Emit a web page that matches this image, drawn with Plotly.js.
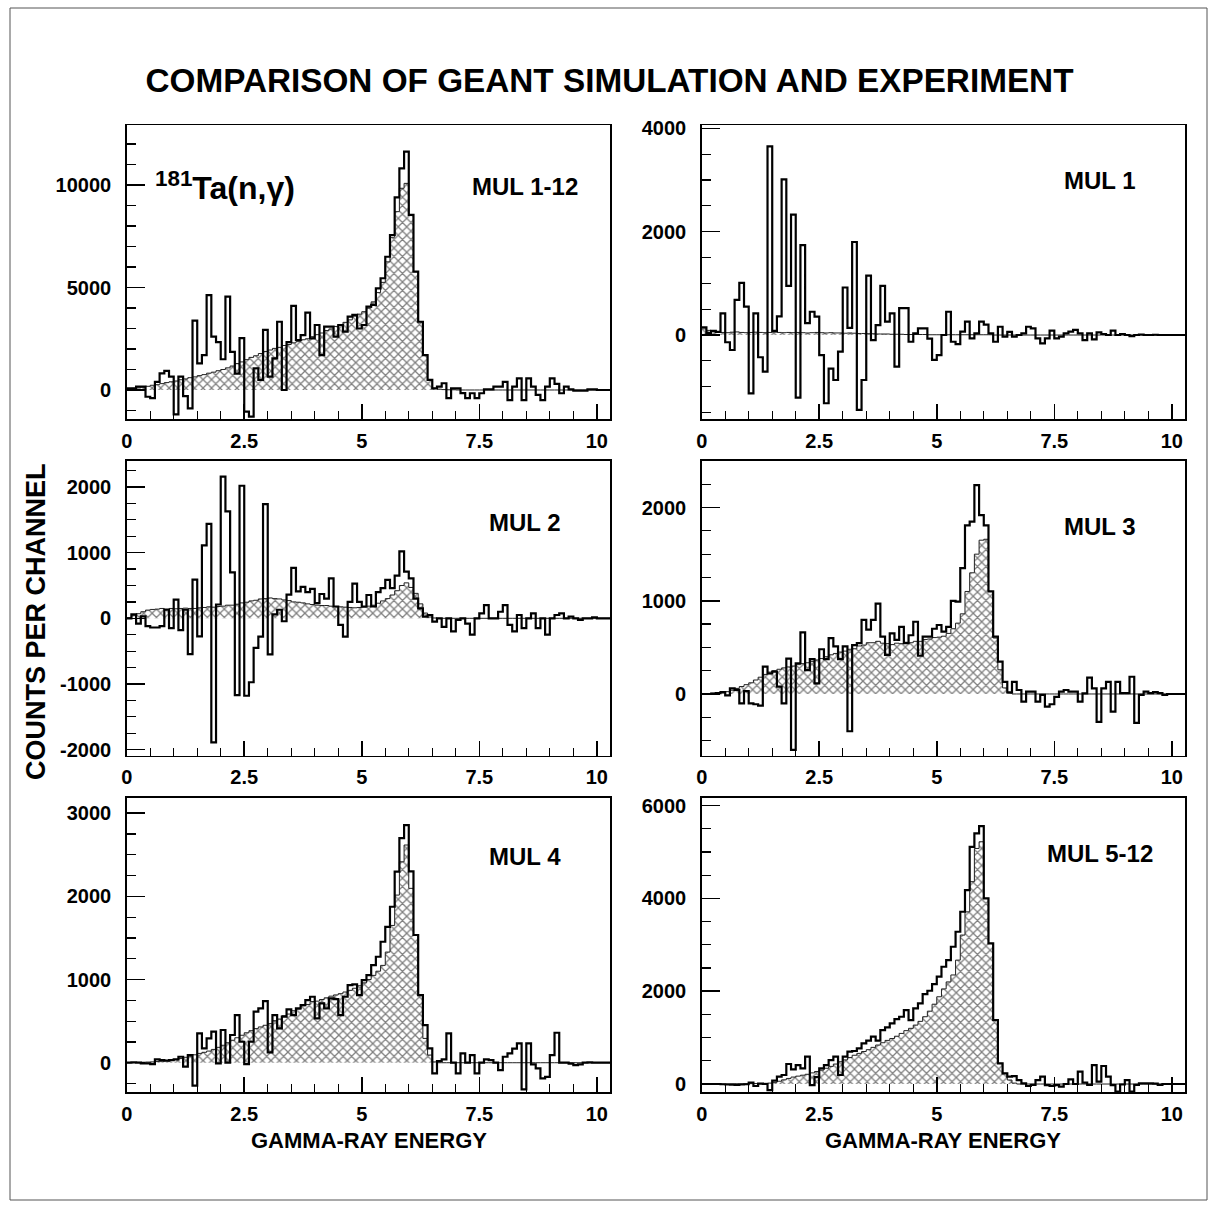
<!DOCTYPE html>
<html>
<head>
<meta charset="utf-8">
<script src="https://cdn.plot.ly/plotly-3.0.1.min.js"></script>
<style>
  html, body { margin: 0; padding: 0; background: #fff; }
  #chart { width: 1219px; height: 1210px; }
</style>
</head>
<body>
<div id="chart"></div>
<script>
// Gamma-ray spectra of 181Ta(n,gamma): counts per 0.1 MeV channel, first channel at 0 MeV.
// "Exp" = measured spectrum (outline), "Sim" = GEANT simulation (hatched).
const BIN_WIDTH = 0.1;
const E_MAX = 10.28;

const mul1to12Exp = [
  80, 80, 160, 160, -330, -400, 400, 810, 930, 650,
  -1190, 650, -300, -900, 3380, 1300, 1700, 4630, 2600, 2340,
  1500, 4550, 1860, 800, 2530, -1060, -1300, 1060, 490, 2930,
  650, 1540, 3330, 0, 2340, 4100, 2440, 2680, 3770, 2520,
  3170, 1700, 3090, 3090, 2600, 3170, 2850, 3580, 3660, 3000,
  3170, 4070, 4150, 4960, 5450, 6500, 7560, 9400, 10810, 11630,
  8540, 5770, 3330, 1700, 490, 80, 160, 330, -400, 80,
  80, -150, -400, -160, -400, -160, 30, 30, 160, 160,
  400, -490, 160, 570, -490, 570, 160, -240, -490, 160,
  570, 300, -160, 160, 30, -30, -30, -30, 30, 30,
  0, 0, 0
];
const mul1to12Sim = [
  40, 80, 100, 150, 180, 230, 260, 310, 360, 400,
  440, 500, 540, 600, 640, 700, 750, 820, 870, 940,
  1000, 1080, 1170, 1290, 1370, 1480, 1590, 1670, 1780, 1880,
  1950, 2030, 2080, 2170, 2220, 2300, 2360, 2450, 2500, 2600,
  2700, 2780, 2900, 2980, 3100, 3180, 3300, 3420, 3600, 3700,
  3820, 4000, 4300, 4750, 5250, 6250, 7450, 8700, 9840, 10080,
  8540, 5770, 3330, 1700, 490, 80, 40, 20, 10, 10,
  0, 0, 0, 0, 0, 0, 0, 0, 0, 0,
  0, 0, 0, 0, 0, 0, 0, 0, 0, 0,
  0, 0, 0, 0, 0, 0, 0, 0, 0, 0,
  0, 0, 0
];

const mul1Exp = [
  150, 40, 80, 60, 420, -140, -290, 680, 1010, 550,
  -1130, 420, -430, -710, 3650, 80, 360, 3010, 950, 2330,
  -1210, 1740, 230, 450, 355, -390, -1320, -650, -870, -320,
  920, 140, 1800, -1450, -870, 1150, -100, 190, 950, 260,
  420, -610, 520, 520, -130, 30, 130, 130, -70, -480,
  -390, 0, 450, -130, -175, 65, 260, -65, 30, 260,
  200, 30, -130, 160, -30, 60, -30, 0, 30, 160,
  130, -65, -160, -65, 85, -65, -30, 30, 65, 100,
  30, -100, 30, -85, 50, 20, 0, 85, 0, 20,
  0, -20, 0, 10, 0, 0, 5, 0, 0, 0,
  0, 0, 0
];
const mul1Sim = [
  120, 90, 70, 60, 50, 45, 55, 60, 50, 45,
  50, 55, 50, 45, 50, 55, 50, 45, 50, 45,
  50, 45, 40, 45, 50, 45, 40, 45, 40, 40,
  35, 40, 35, 30, 30, 25, 25, 20, 20, 20,
  15, 15, 15, 10, 10, 10, 10, 10, 5, 5,
  5, 5, 5, 5, 5, 5, 5, 5, 5, 5,
  5, 5, 0, 0, 0, 0, 0, 0, 0, 0,
  0, 0, 0, 0, 0, 0, 0, 0, 0, 0,
  0, 0, 0, 0, 0, 0, 0, 0, 0, 0,
  0, 0, 0, 0, 0, 0, 0, 0, 0, 0,
  0, 0, 0
];

const mul2Exp = [
  0, 60, -80, 30, -120, -140, -140, -120, 130, -150,
  285, -180, 130, -545, 590, -275, 1110, 1440, -1890, 210,
  2160, 1630, 700, -1170, 2020, -1180, -975, -450, -280, 1740,
  -550, 60, 130, -45, 360, 770, 410, 480, 400, 450,
  230, 370, 300, 610, 180, -100, -280, 250, 530, 250,
  180, 355, 180, 400, 460, 585, 460, 650, 1020, 710,
  610, 300, 150, 25, 50, -50, 0, -130, 0, -200,
  -25, 0, -80, -250, 0, 75, 200, 0, 0, 100,
  200, -100, -200, 50, -150, 0, 75, -150, 0, -250,
  0, 50, 75, 0, 25, 0, -25, 0, 0, 15,
  0, 0, 0
];
const mul2Sim = [
  10, 40, 70, 100, 125, 135, 140, 150, 140, 150,
  145, 150, 155, 150, 150, 160, 165, 175, 170, 180,
  185, 200, 200, 215, 235, 245, 265, 275, 295, 300,
  310, 300, 295, 280, 270, 250, 245, 235, 220, 210,
  200, 195, 195, 185, 180, 175, 170, 165, 160, 165,
  170, 185, 200, 230, 265, 300, 355, 420, 500, 540,
  470, 380, 220, 80, 20, 5, 0, 0, 0, 0,
  0, 0, 0, 0, 0, 0, 0, 0, 0, 0,
  0, 0, 0, 0, 0, 0, 0, 0, 0, 0,
  0, 0, 0, 0, 0, 0, 0, 0, 0, 0,
  0, 0, 0
];

const mul3Exp = [
  0, 0, 5, 10, 20, -15, 60, 45, -100, 30,
  -100, -110, -125, 293, 220, 240, 80, -100, 380, -600,
  330, 660, 257, 375, 114, 480, 375, 600, 510, 375,
  510, -400, 525, 545, 795, 690, 795, 970, 615, 420,
  650, 580, 720, 545, 630, 775, 410, 615, 615, 700,
  740, 670, 720, 1000, 990, 1350, 1810, 1850, 2240, 1920,
  1810, 1100, 615, 347, 130, 18, 130, 43, -82, 25,
  25, -82, -10, -136, -110, -30, 25, 43, 25, 25,
  -82, 7, 175, 60, -300, 60, 130, -190, 130, 10,
  10, 185, -310, -10, 25, 10, 20, 10, -10, 0,
  0, 0, 0
];
const mul3Sim = [
  0, 3, 8, 12, 18, 25, 40, 60, 80, 100,
  120, 150, 180, 210, 235, 250, 265, 280, 290, 300,
  315, 325, 335, 350, 365, 380, 400, 420, 435, 450,
  460, 480, 485, 515, 525, 550, 550, 565, 545, 540,
  530, 545, 540, 555, 550, 565, 565, 585, 590, 605,
  610, 620, 650, 700, 760, 860, 1100, 1300, 1500, 1650,
  1660, 1100, 600, 260, 65, 10, 0, 0, 0, 0,
  0, 0, 0, 0, 0, 0, 0, 0, 0, 0,
  0, 0, 0, 0, 0, 0, 0, 0, 0, 0,
  0, 0, 0, 0, 0, 0, 0, 0, 0, 0,
  0, 0, 0
];

const mul4Exp = [
  0, 5, 0, -8, -8, -16, 40, 30, 24, 30,
  40, 72, -48, 92, -276, 353, 172, 292, 373, -8,
  393, 0, 333, 573, 252, -16, 252, 613, 653, 741,
  124, 573, 413, 553, 641, 573, 653, 693, 753, 793,
  533, 713, 653, 773, 765, 573, 793, 933, 941, 813,
  993, 1053, 1174, 1274, 1454, 1634, 1875, 2296, 2700, 2857,
  2300, 1535, 813, 453, 172, -128, 20, 40, 353, 0,
  -128, 112, 0, 92, -128, 0, 40, 30, 0, -88,
  72, 112, 170, 232, -320, 232, -20, -68, -188, -170,
  92, 360, 0, 0, -10, -28, -20, 0, 5, 0,
  0, 0, 0
];
const mul4Sim = [
  0, 2, 4, 6, 8, 10, 14, 18, 24, 30,
  40, 50, 65, 80, 95, 112, 125, 140, 160, 185,
  210, 240, 270, 300, 330, 360, 385, 410, 430, 450,
  470, 505, 525, 565, 585, 625, 645, 685, 700, 735,
  740, 760, 780, 800, 815, 830, 850, 870, 895, 925,
  960, 1000, 1050, 1100, 1170, 1330, 1650, 2015, 2415, 2617,
  2096, 1535, 813, 292, 92, 10, 0, 0, 0, 0,
  0, 0, 0, 0, 0, 0, 0, 0, 0, 0,
  0, 0, 0, 0, 0, 0, 0, 0, 0, 0,
  0, 0, 0, 0, 0, 0, 0, 0, 0, 0,
  0, 0, 0
];

const mul5to12Exp = [
  0, 0, 0, 0, -5, -10, -15, -20, -10, -5,
  30, -43, 10, 0, -130, 72, 158, 194, 431, 316,
  409, 338, 589, -22, 150, 338, 409, 517, 589, 194,
  589, 700, 711, 768, 876, 933, 1020, 933, 1163, 1220,
  1306, 1400, 1450, 1594, 1378, 1630, 1738, 1938, 2010, 2154,
  2312, 2527, 2671, 2958, 3281, 3712, 4179, 5112, 5399, 5557,
  4000, 3030, 1379, 445, 230, 158, 172, 86, 14, -43,
  -20, 86, 158, -22, -43, -22, -57, 0, 100, 0,
  266, 30, -20, 409, 50, 388, 158, -22, -165, -10,
  86, -165, -20, 15, 15, 15, 10, -20, 0, 0,
  0, 0, 0
];
const mul5to12Sim = [
  0, 0, 0, 0, 0, 2, 3, 4, 5, 6,
  8, 10, 12, 15, 20, 30, 60, 90, 120, 150,
  170, 190, 210, 240, 270, 300, 340, 380, 430, 480,
  520, 570, 620, 660, 700, 740, 790, 840, 890, 940,
  980, 1030, 1090, 1150, 1200, 1270, 1350, 1450, 1570, 1720,
  1880, 2050, 2200, 2350, 2670, 3210, 3710, 4360, 5076, 5220,
  4000, 3030, 1379, 445, 230, 86, 20, 0, 0, 0,
  0, 0, 0, 0, 0, 0, 0, 0, 0, 0,
  0, 0, 0, 0, 0, 0, 0, 0, 0, 0,
  0, 0, 0, 0, 0, 0, 0, 0, 0, 0,
  0, 0, 0
];

const panelLabels = ['MUL 1-12', 'MUL 1', 'MUL 2', 'MUL 3', 'MUL 4', 'MUL 5-12'];
const energyTickVals = [0, 2.5, 5, 7.5, 10];
const energyTickText = ['0', '2.5', '5', '7.5', '10'];
const countTickVals = [
  [0, 5000, 10000],
  [0, 2000, 4000],
  [-2000, -1000, 0, 1000, 2000],
  [0, 1000, 2000],
  [0, 1000, 2000, 3000],
  [0, 2000, 4000, 6000]
];
const countTickText = [
  ['0', '5000', '10000'],
  ['0', '2000', '4000'],
  ['-2000', '-1000', '0', '1000', '2000'],
  ['0', '1000', '2000'],
  ['0', '1000', '2000', '3000'],
  ['0', '2000', '4000', '6000']
];
const countMinorStep = [1000, 500, 250, 250, 250, 500];
const countRanges = [
  [-1415, 12927], [-1625, 4064],
  [-2091, 2405], [-660, 2505],
  [-352, 3188], [-172, 6174]
];

const spectra = [
  [mul1to12Exp, mul1to12Sim], [mul1Exp, mul1Sim],
  [mul2Exp, mul2Sim], [mul3Exp, mul3Sim],
  [mul4Exp, mul4Sim], [mul5to12Exp, mul5to12Sim]
];

// ---- page geometry (pixels of the 1219 x 1210 canvas) ----
const W = 1219, H = 1210;
const fx = p => p / W;
const fy = p => 1 - p / H;
const colPx = [[126.7, 610], [701.7, 1185]];
const rowPx = [[125, 419], [460.5, 755.5], [797.5, 1092]];

const FONT = 'Liberation Sans, Arial, Helvetica, sans-serif';
const boldFont = size => ({ family: FONT, size: size, color: '#000', weight: 'bold' });

// step outline of a histogram: x = channel edges
function stepXY(values) {
  const x = values.map((_, i) => +(i * BIN_WIDTH).toFixed(3));
  const y = values.slice();
  x.push(+(values.length * BIN_WIDTH).toFixed(3));
  y.push(values[values.length - 1]);
  return { x, y };
}

const traces = [];
const layout = {
  width: W, height: H,
  margin: { l: 0, r: 0, t: 0, b: 0 },
  paper_bgcolor: '#fff', plot_bgcolor: '#fff',
  showlegend: false,
  title: {
    text: 'COMPARISON OF GEANT SIMULATION AND EXPERIMENT',
    font: boldFont(33.3),
    x: 0.5, xref: 'container', xanchor: 'center',
    y: fy(80), yref: 'container', yanchor: 'middle'
  },
  annotations: [],
  shapes: [{
    type: 'rect', xref: 'paper', yref: 'paper',
    x0: fx(10), x1: fx(1207), y0: fy(1200), y1: fy(8),
    line: { color: '#555', width: 1 }
  }]
};

const labelPos = [0.79, 0.81, 0.79, 0.775, 0.8, 0.81];

spectra.forEach(([exp, sim], k) => {
  const n = k + 1;
  const sfx = n === 1 ? '' : String(n);
  const col = k % 2, row = Math.floor(k / 2);

  const s = stepXY(sim);
  traces.push({
    type: 'scatter', mode: 'lines', x: s.x, y: s.y,
    xaxis: 'x' + sfx, yaxis: 'y' + sfx,
    line: { shape: 'hv', color: '#222', width: 1 },
    fill: 'tozeroy', fillcolor: 'rgba(0,0,0,0)',
    fillpattern: { shape: 'x', size: 6, solidity: 0.38, fgcolor: '#000', bgcolor: 'rgba(255,255,255,0)', fillmode: 'overlay' },
    hoverinfo: 'skip'
  });
  const e = stepXY(exp);
  traces.push({
    type: 'scatter', mode: 'lines', x: e.x, y: e.y,
    xaxis: 'x' + sfx, yaxis: 'y' + sfx,
    line: { shape: 'hv', color: '#000', width: 2.2 },
    hoverinfo: 'skip'
  });

  layout['xaxis' + sfx] = {
    domain: [fx(colPx[col][0]), fx(colPx[col][1])],
    anchor: 'y' + sfx,
    range: [0, E_MAX],
    showgrid: false, zeroline: false,
    showline: true, mirror: true, linecolor: '#000', linewidth: 1.5,
    tickmode: 'array', tickvals: energyTickVals, ticktext: energyTickText,
    ticks: 'inside', ticklen: 15, tickwidth: 1.5, tickcolor: '#000',
    minor: { ticks: 'inside', dtick: 0.5, tick0: 0, ticklen: 8, tickwidth: 1.2, tickcolor: '#000', showgrid: false },
    tickfont: boldFont(20),
    ticklabelstandoff: 3
  };
  layout['yaxis' + sfx] = {
    domain: [fy(rowPx[row][1]), fy(rowPx[row][0])],
    anchor: 'x' + sfx,
    range: countRanges[k],
    showgrid: false, zeroline: false,
    showline: true, mirror: true, linecolor: '#000', linewidth: 1.5,
    tickmode: 'array', tickvals: countTickVals[k], ticktext: countTickText[k],
    ticks: 'inside', ticklen: 18, tickwidth: 1.5, tickcolor: '#000',
    minor: { ticks: 'inside', dtick: countMinorStep[k], tick0: 0, ticklen: 9, tickwidth: 1.2, tickcolor: '#000', showgrid: false },
    tickfont: boldFont(20),
    ticklabelstandoff: 10
  };

  layout.annotations.push({
    text: panelLabels[k], showarrow: false,
    xref: 'x' + sfx, x: 8.47, xanchor: 'center',
    yref: 'y' + sfx + ' domain', y: labelPos[k], yanchor: 'middle',
    font: boldFont(24)
  });
});

// reaction label in the first panel
layout.annotations.push({
  text: '<sup>181</sup>Ta(n,γ)', showarrow: false,
  xref: 'paper', x: fx(153), xanchor: 'left',
  yref: 'paper', y: fy(186), yanchor: 'middle',
  font: boldFont(32)
});

// shared axis titles
layout.annotations.push({
  text: 'COUNTS PER CHANNEL', showarrow: false, textangle: -90,
  xref: 'paper', x: fx(36), xanchor: 'center',
  yref: 'paper', y: fy(622), yanchor: 'middle',
  font: boldFont(27)
});
[368.5, 943.4].forEach(cx => {
  layout.annotations.push({
    text: 'GAMMA-RAY ENERGY', showarrow: false,
    xref: 'paper', x: fx(cx), xanchor: 'center',
    yref: 'paper', y: fy(1140), yanchor: 'middle',
    font: boldFont(22)
  });
});

Plotly.newPlot('chart', traces, layout, { staticPlot: true, displayModeBar: false });
</script>
</body>
</html>
